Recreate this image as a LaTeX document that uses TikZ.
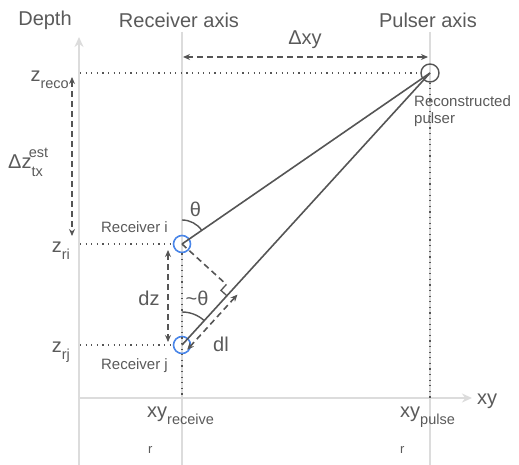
\documentclass[tikz,border=0pt]{standalone}
\usepackage{fontspec}
\setmainfont{Liberation Sans}
\usetikzlibrary{arrows.meta,calc}
\definecolor{txt}{HTML}{5A5A5A}
\definecolor{ln}{HTML}{555555}
\definecolor{axisc}{HTML}{DCDCDC}
\definecolor{blu}{HTML}{4A86E8}
\newcommand\bigf{\fontsize{20}{22}\selectfont}
\newcommand\smallf{\fontsize{15}{17}\selectfont}
\newcommand\subf{\fontsize{14.5}{16}\selectfont}
\newcommand\lowsub[1]{\raisebox{-7pt}{\subf #1}}
\begin{document}
\begin{tikzpicture}[x=1pt,y=1pt,
  axisline/.style={draw=axisc, line width=1.8pt},
  biglbl/.style={text=txt, font=\bigf, inner sep=0pt},
  smalllbl/.style={text=txt, font=\smallf, inner sep=0pt},
  dotline/.style={draw=ln, line width=1.2pt, dash pattern=on 1.2pt off 4.4pt},
  dashline/.style={draw=ln, line width=1.6pt, dash pattern=on 6pt off 4pt},
  twoway/.style={dashline, {Stealth[length=7pt,width=6pt]}-{Stealth[length=7pt,width=6pt]}},
  ray/.style={draw=ln, line width=1.6pt},
  rcv/.style={circle, draw=blu, line width=1.6pt, minimum size=17pt, inner sep=0pt},
  psr/.style={circle, draw=ln, line width=1.4pt, minimum size=18pt, inner sep=0pt},
  anglearc/.style={draw=ln, line width=1.4pt}]
\useasboundingbox (0,-465) rectangle (519,0);

% axes
\coordinate (depthbot) at (79,-465);
\coordinate (depthtop) at (79,-37);
\coordinate (xyend) at (472,-398);
\coordinate (xystart) at (79,-398);
\draw[axisline] (182,-32) -- (182,-465);
\draw[axisline] (430,-32) -- (430,-465);
\draw[axisline, -{Stealth[length=10pt,width=9pt]}] (depthbot) -- (depthtop);
\draw[axisline, -{Stealth[length=10pt,width=9pt]}] (xystart) -- (xyend);

% header labels
\node[biglbl] (hdepth) at (45,-20) {Depth};
\node[biglbl] (hrecv) at (179,-20) {Receiver axis};
\node[biglbl] (hpulse) at (428,-20) {Pulser axis};
\node[biglbl, anchor=base west] (xylbl) at (477,-404) {xy};

% nodes
\node[psr] (pulser) at (430,-73) {};
\node[rcv] (recI) at (182,-244) {};
\node[rcv] (recJ) at (182,-345) {};

% dotted guides
\coordinate (zrecoL) at (80,-73);
\coordinate (zriL) at (80,-244);
\coordinate (zrjL) at (80,-345);
\coordinate (pulsebot) at (430,-398);
\coordinate (recvbot) at (182,-398);
\draw[dotline] (zrecoL) -- (pulser.west);
\draw[dotline] (zriL) -- (recI.west);
\draw[dotline] (zrjL) -- (recJ.west);
\draw[dotline] (pulser.south) -- (pulsebot);
\draw[dotline] (recI.south) -- (recvbot);

% rays
\draw[ray] (recI.center) -- (pulser.center);
\draw[ray] (recJ.center) -- (pulser.center);

% perpendicular and right angle mark
\coordinate (foot) at ($(recJ.center)!(recI.center)!(pulser.center)$);
\coordinate (ma) at ($(foot)!8pt!(recI.center)$);
\coordinate (mb) at ($(foot)!8pt!(recJ.center)$);
\coordinate (mc) at ($(ma)+(mb)-(foot)$);
\draw[dashline] (recI.center) -- (ma);
\draw[draw=ln, line width=1.3pt] (ma) -- (mc) -- (mb);

% angle arcs
\draw[anglearc] (182,-220) arc[start angle=90, end angle=34.6, radius=24pt];
\draw[anglearc] (182,-312) arc[start angle=90, end angle=47.6, radius=33pt];
\node[biglbl] (theta) at (195.5,-209.5) {θ};
\node[biglbl] (ttheta) at (197,-298) {\textasciitilde θ};

% dl arrow
\coordinate (dlA) at ($(recJ.center)!7pt!-90:(pulser.center)$);
\coordinate (dlB) at ($(foot)!7pt!90:(recJ.center)$);
\draw[twoway] (dlA) -- (dlB);
\node[biglbl] (dl) at (221,-344) {dl};

% dz arrow
\coordinate (dzT) at (168,-250);
\coordinate (dzB) at (168,-342);
\draw[twoway] (dzT) -- (dzB);
\node[biglbl] (dz) at (149,-298) {dz};

% delta z arrow
\coordinate (dzeT) at (72,-77);
\coordinate (dzeB) at (72,-236);
\draw[twoway] (dzeT) -- (dzeB);

% delta xy arrow
\coordinate (dxyL) at (183,-57);
\coordinate (dxyR) at (428,-57);
\draw[twoway] (dxyL) -- (dxyR);
\node[biglbl] (dxy) at (305,-40) {Δxy};

% receiver labels
\node[smalllbl, anchor=base east] (lri) at (168,-233) {Receiver i};
\node[smalllbl, anchor=base east] (lrj) at (168,-369) {Receiver j};
\node[smalllbl, anchor=base west, align=left] (lrec) at (414,-124) {Reconstructed\\pulser};

% depth labels
\node[biglbl, anchor=base east] (zreco) at (69,-82) {z\lowsub{reco}};
\node[biglbl, anchor=base east] (zri) at (70,-252) {z\lowsub{ri}};
\node[biglbl, anchor=base east] (zrj) at (70,-352) {z\lowsub{rj}};
\node[biglbl, anchor=base west] (dzest) at (8,-169) {Δz\raisebox{-8pt}{\subf tx}\raisebox{11pt}{\kern-14pt\subf est}};

% xy labels
\node[biglbl, anchor=base west] (xyr) at (147,-417) {xy\lowsub{receive}};
\node[biglbl, anchor=base west] (xyp) at (400,-417) {xy\lowsub{pulse}};
\node[smalllbl, anchor=base west, font=\fontsize{13}{14}\selectfont] (rr) at (148,-453) {r};
\node[smalllbl, anchor=base west, font=\fontsize{13}{14}\selectfont] (rp) at (400,-453) {r};
\end{tikzpicture}
\end{document}
